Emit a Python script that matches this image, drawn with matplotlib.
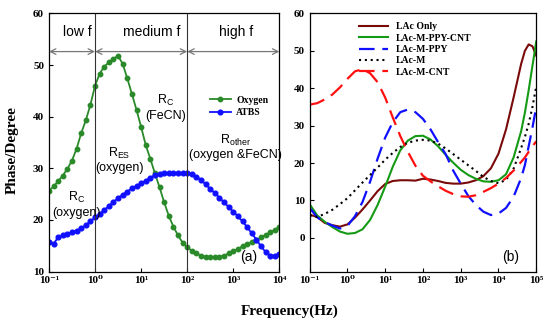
import numpy as np
import matplotlib
matplotlib.use("Agg")
import matplotlib.pyplot as plt

# ---- data, panel (a): frequency exponents 10^-1 .. 10^4, 0.1 decade step
exp_a = np.round(np.arange(-1.0, 4.01, 0.1), 1)
oxygen = [25.6, 26.5, 27.5, 28.6, 29.9, 31.5, 33.8, 36.8, 39.3, 42.3,
          46.0, 48.3, 49.7, 50.5, 51.2, 51.8, 50.2, 47.4, 44.4, 41.3,
          38.0, 34.5, 31.8, 29.0, 26.3, 23.4, 20.8, 18.7, 17.0, 15.6,
          14.7, 14.0, 13.5, 13.1, 12.9, 12.8, 12.8, 12.9, 13.1, 13.5,
          13.9, 14.4, 14.9, 15.3, 15.7, 16.1, 16.6, 17.1, 17.6, 18.1,
          18.6]
atbs = [15.8, 15.4, 16.6, 17.0, 17.3, 17.6, 17.9, 18.4, 19.0, 19.7,
        20.5, 21.2, 21.9, 22.7, 23.5, 24.2, 24.9, 25.5, 26.1, 26.6,
        27.1, 27.6, 28.2, 28.7, 28.9, 29.0, 29.1, 29.1, 29.1, 29.0,
        29.0, 28.8, 28.4, 27.7, 26.9, 26.0, 25.2, 24.3, 23.4, 22.5,
        21.6, 20.7, 19.7, 18.6, 17.4, 16.2, 14.9, 13.8, 13.1, 13.1,
        13.4]

# ---- data, panel (b)
exp_b = [-1.0, -0.8, -0.6, -0.4, -0.2, 0.0, 0.2, 0.4, 0.6, 0.8,
         1.0, 1.2, 1.4, 1.6, 1.8, 2.0, 2.2, 2.4, 2.6, 2.8,
         3.0, 3.2, 3.4, 3.6, 3.8, 4.0, 4.2, 4.4, 4.6, 4.7,
         4.8, 4.9, 5.0]
lac_only = [6.2, 5.6, 4.0, 3.4, 3.0, 3.6, 5.4, 7.6, 10.0, 12.5,
            14.4, 15.2, 15.4, 15.4, 15.3, 15.8, 15.6, 15.2, 14.7, 14.5,
            14.5, 14.8, 15.4, 16.5, 18.6, 22.5, 29.0, 37.5, 46.5, 50.0,
            51.7, 51.2, 48.7]
ppy_cnt = [9.0, 6.0, 4.3, 2.9, 1.7, 1.1, 1.3, 2.3, 4.8, 8.8,
           13.7, 19.0, 23.4, 26.0, 27.2, 27.3, 26.3, 24.5, 22.2, 20.1,
           18.2, 16.8, 15.8, 15.1, 15.0, 15.4, 17.0, 21.5, 28.5, 33.5,
           39.5, 46.0, 52.5]
ppy = [8.0, 5.5, 4.2, 3.3, 2.5, 3.2, 5.8, 9.6, 15.0, 21.2,
       26.8, 30.9, 33.6, 34.3, 33.6, 31.8, 29.0, 25.6, 22.4, 18.0,
       14.5, 11.2, 8.8, 7.0, 6.1, 6.5, 8.0, 11.0, 16.0, 19.5,
       24.5, 29.5, 35.0]
lac_m = [6.0, 5.6, 6.4, 7.5, 9.0, 10.6, 12.7, 14.8, 16.8, 18.8,
         20.9, 22.7, 24.3, 25.4, 26.0, 26.2, 26.0, 25.2, 23.9, 22.4,
         20.9, 19.4, 17.9, 16.3, 15.2, 14.6, 15.5, 18.5, 24.0, 27.0,
         30.5, 35.0, 40.5]
m_cnt = [35.6, 36.0, 37.0, 38.3, 40.2, 42.5, 44.5, 45.1, 44.0, 41.6,
         37.5, 32.2, 27.2, 23.0, 19.3, 16.6, 15.1, 13.8, 12.6, 11.7,
         11.1, 11.0, 11.4, 12.3, 13.3, 14.5, 16.0, 18.0, 20.3, 21.5,
         23.0, 24.5, 25.8]

xt_a = [1e-1, 1e0, 1e1, 1e2, 1e3, 1e4]
xt_b = [1e-1, 1e0, 1e1, 1e2, 1e3, 1e4, 1e5]
xt_labels = ["10\u207b\u00b9", "10\u2070", "10\u00b9", "10\u00b2", "10\u00b3",
             "10\u2074", "10\u2075"]

freq_a = 10.0 ** exp_a
freq_b = 10.0 ** np.array(exp_b)

serif = ["Liberation Serif", "DejaVu Serif"]
sans = "Liberation Sans"

fig = plt.figure(figsize=(5.5, 3.26), dpi=100)
ax1 = fig.add_axes([0.089, 0.167, 0.419, 0.792])
ax2 = fig.add_axes([0.563, 0.167, 0.412, 0.792])

# panel (a)
ax1.plot(freq_a, oxygen, color="#2a8a2a", lw=1.3, marker="o", ms=3.2, label="Oxygen")
ax1.plot(freq_a, atbs, color="#1010ff", lw=1.3, marker="o", ms=3.4, label="ATBS")
ax1.set_xscale("log")
ax1.set_xlim(1e-1, 1e4)
ax1.set_ylim(10, 60)
ax1.set_yticks([10, 20, 30, 40, 50, 60])
ax1.set_xticks(xt_a, xt_labels[:6])
for xv in [1e0, 1e2]:
    ax1.axvline(xv, color="#333333", lw=0.8)
arr = dict(arrowstyle="<->", color="#777777", lw=0.9, shrinkA=0, shrinkB=0)
for x0, x1 in [(1e-1, 1e0), (1e0, 1e2), (1e2, 1e4)]:
    ax1.annotate("", xy=(x0, 52.6), xytext=(x1, 52.6), arrowprops=arr)
tk = dict(fontsize=10, family=sans, ha="center", va="center")
ax1.text(10 ** -0.38, 56.3, "low f", **tk)
ax1.text(10 ** 1.23, 56.3, "medium f", **tk)
ax1.text(10 ** 3.07, 56.3, "high f", **tk)
ak = dict(fontsize=9, family=sans, ha="center", va="center", linespacing=1.15)
ax1.text(10 ** 1.53, 41.8, "R$_\\mathregular{C}$\n(FeCN)", **ak)
ax1.text(10 ** 0.52, 31.6, "R$_\\mathregular{ES}$\n(oxygen)", **ak)
ax1.text(10 ** -0.41, 23.0, "R$_\\mathregular{C}$\n(oxygen)", **ak)
ax1.text(10 ** 3.04, 34.1, "R$_\\mathregular{other}$\n(oxygen &FeCN)", **ak)
ax1.text(10 ** 3.33, 12.9, "(a)", fontsize=10, family=sans, ha="center", va="center")
ax1.legend(loc="center left", bbox_to_anchor=(0.66, 0.64), frameon=False,
           prop={"family": serif, "weight": "bold", "size": 7},
           handlelength=2.2, labelspacing=0.35, handletextpad=0.5)

# panel (b)
ax2.plot(freq_b, lac_only, color="#7a0a0a", lw=1.5, label="LAc Only")
ax2.plot(freq_b, ppy_cnt, color="#159a15", lw=1.5, label="LAc-M-PPY-CNT")
ax2.plot(freq_b, ppy, color="#1010ff", lw=1.6, ls=(0, (7, 3.5)), label="LAc-M-PPY")
ax2.plot(freq_b, lac_m, color="black", lw=1.5, ls=(0, (1, 1.8)), label="LAc-M")
ax2.plot(freq_b, m_cnt, color="#ff1010", lw=1.6, ls=(0, (7, 3.5)), label="LAc-M-CNT")
ax2.set_xscale("log")
ax2.set_xlim(1e-1, 1e5)
ax2.set_ylim(-9, 60)
ax2.set_yticks([0, 10, 20, 30, 40, 50, 60])
ax2.set_xticks(xt_b, xt_labels)
ax2.text(10 ** 4.32, -5.2, "(b)", fontsize=10, family=sans, ha="center", va="center")
ax2.legend(loc="upper left", bbox_to_anchor=(0.18, 1.0), frameon=False,
           prop={"family": serif, "weight": "bold", "size": 7},
           handlelength=3.0, labelspacing=0.25, handletextpad=0.8)

for ax in (ax1, ax2):
    ax.tick_params(direction="in", which="both", length=3, labelsize=8, top=False, right=False)
    ax.tick_params(which="minor", length=0)
    ax.minorticks_off()
    for lab in ax.get_xticklabels() + ax.get_yticklabels():
        lab.set_fontfamily(serif)
        lab.set_fontweight("bold")
    for sp in ax.spines.values():
        sp.set_linewidth(0.9)

fig.text(0.527, 0.045, "Frequency(Hz)", fontsize=11, family=serif, weight="bold",
         ha="center", va="center")
fig.text(0.022, 0.54, "Phase/Degree", fontsize=11, family=serif, weight="bold",
         ha="center", va="center", rotation=90)

fig.savefig("out.png", dpi=100)
